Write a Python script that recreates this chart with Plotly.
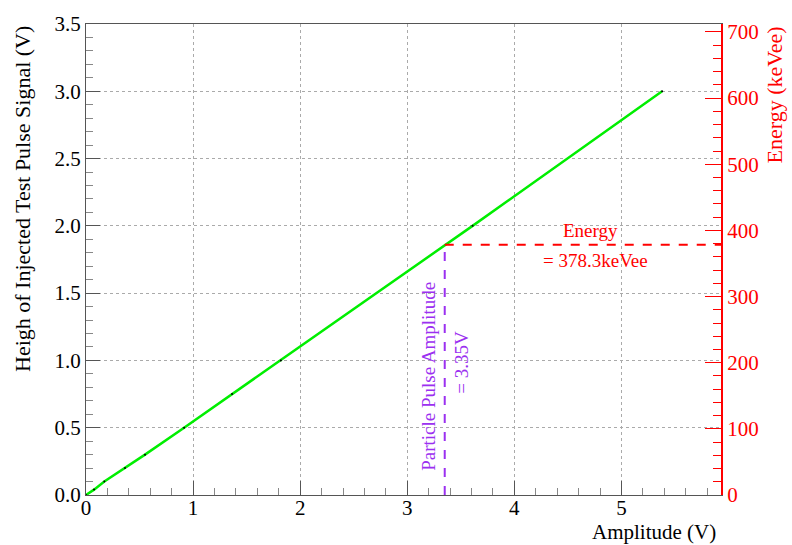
import plotly.graph_objects as go

# Data
amp_v = [0.0, 0.075, 0.171, 0.364, 0.551, 0.916, 1.364, 1.82, 3.61, 5.38]
height_v = [0.0, 0.04, 0.1, 0.2, 0.3, 0.5, 0.75, 1.0, 2.0, 3.0]
particle_amp = 3.35
particle_height = 1.866
energy_kevee = 378.3
x_max = 5.93
y_max = 3.5
e_max = 712.0

FONT = "Liberation Serif, Times New Roman, serif"
PURPLE = "#9b30f0"
RED = "#ff0000"

fig = go.Figure()

# Green calibration line with small black points
fig.add_trace(go.Scatter(x=amp_v, y=height_v, mode="lines+markers",
                         line=dict(color="#00ee00", width=2.5),
                         marker=dict(color="black", size=2),
                         showlegend=False, hoverinfo="skip"))

# Purple vertical dashed line
fig.add_trace(go.Scatter(x=[particle_amp, particle_amp], y=[0, particle_height],
                         mode="lines", line=dict(color=PURPLE, width=2, dash="dash"),
                         showlegend=False, hoverinfo="skip"))

# Red horizontal dashed line on energy axis
fig.add_trace(go.Scatter(x=[particle_amp, x_max], y=[energy_kevee, energy_kevee],
                         mode="lines", line=dict(color=RED, width=2, dash="dash"),
                         yaxis="y2", showlegend=False, hoverinfo="skip"))

tickfont = dict(family=FONT, size=21, color="black")

fig.update_layout(
    width=792, height=545,
    margin=dict(l=86, r=71, t=19, b=50),
    paper_bgcolor="white", plot_bgcolor="white",
    font=dict(family=FONT, size=21),
    xaxis=dict(range=[0, x_max], dtick=1, tick0=0, ticks="inside", ticklen=14,
               tickcolor="#555", showline=True, linecolor="#555", mirror=True,
               showgrid=True, gridcolor="#aaa", griddash="dot", gridwidth=1,
               zeroline=False, tickfont=tickfont, ticklabelstandoff=-6,
               minor=dict(dtick=0.2, ticks="inside", ticklen=7, tickcolor="#888", showgrid=False)),
    yaxis=dict(range=[0, y_max], dtick=0.5, tick0=0, tickformat=".1f", ticks="inside",
               ticklen=14, tickcolor="#555", showline=True, linecolor="#555",
               showgrid=True, gridcolor="#aaa", griddash="dot", gridwidth=1,
               zeroline=False, tickfont=tickfont,
               minor=dict(dtick=0.1, ticks="inside", ticklen=7, tickcolor="#888", showgrid=False)),
    yaxis2=dict(range=[0, e_max], overlaying="y", side="right", dtick=100, tick0=0,
                ticks="inside", ticklen=16, tickcolor=RED, showline=True, linecolor=RED,
                linewidth=2, showgrid=False, zeroline=False,
                tickfont=dict(family=FONT, size=21, color=RED),
                minor=dict(dtick=20, ticks="inside", ticklen=8, tickcolor=RED)),
)

annotations = [
    dict(text="Heigh of Injected Test Pulse Signal (V)", xref="paper", yref="paper",
         x=-0.1008, y=1.0, xanchor="center", yanchor="top", textangle=-90,
         showarrow=False, font=dict(family=FONT, size=22, color="black")),
    dict(text="Amplitude (V)", xref="paper", yref="paper", x=0.995, y=-0.078,
         xanchor="right", yanchor="middle", showarrow=False,
         font=dict(family=FONT, size=21, color="black")),
    dict(text="Energy (keVee)", xref="paper", yref="paper", x=1.085, y=1.0,
         xanchor="center", yanchor="top", textangle=-90, showarrow=False,
         font=dict(family=FONT, size=22, color=RED)),
    dict(text="Particle Pulse Amplitude", x=3.196, y=0.88, xref="x", yref="y",
         textangle=-90, showarrow=False, font=dict(family=FONT, size=19, color=PURPLE)),
    dict(text="= 3.35V", x=3.51, y=0.99, xref="x", yref="y",
         textangle=-90, showarrow=False, font=dict(family=FONT, size=19, color=PURPLE)),
    dict(text="Energy", x=4.71, y=1.963, xref="x", yref="y",
         showarrow=False, font=dict(family=FONT, size=19, color=RED)),
    dict(text="= 378.3keVee", x=4.76, y=1.743, xref="x", yref="y",
         showarrow=False, font=dict(family=FONT, size=19, color=RED)),
]
fig.update_layout(annotations=annotations)

fig.write_html("out.html")
